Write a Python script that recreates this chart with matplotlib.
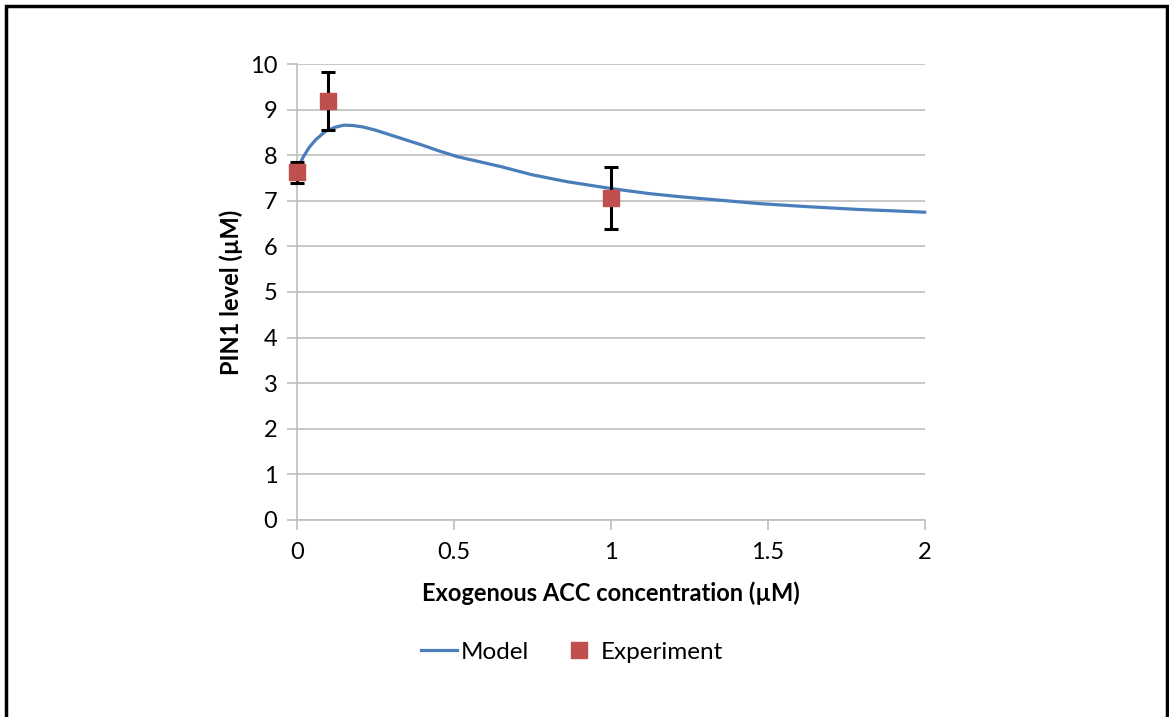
import matplotlib.pyplot as plt
from matplotlib.patches import Rectangle

plt.rcParams['font.family'] = ['Lato', 'DejaVu Sans']

# Model curve
model_x = [0.0, 0.01, 0.02, 0.04, 0.06, 0.09, 0.12, 0.15, 0.18, 0.21, 0.25, 0.30, 0.35,
           0.40, 0.45, 0.51, 0.58, 0.65, 0.75, 0.86, 1.00, 1.12, 1.22, 1.32, 1.47,
           1.63, 1.79, 1.9, 2.0]
model_y = [7.62, 7.82, 7.96, 8.18, 8.34, 8.52, 8.61, 8.66, 8.65, 8.62, 8.55, 8.44, 8.33,
           8.22, 8.10, 7.97, 7.86, 7.75, 7.57, 7.42, 7.27, 7.16, 7.09, 7.03, 6.94,
           6.87, 6.81, 6.78, 6.75]

# Experiment points with error bars
exp_x = [0.0, 0.1, 1.0]
exp_y = [7.63, 9.19, 7.06]
exp_err = [0.23, 0.64, 0.68]

fig = plt.figure(figsize=(11.69, 7.17), dpi=100)
ax = fig.add_axes([0.254, 0.2748, 0.537, 0.6359])

grid_c = '#bfbfbf'
ax.plot(model_x, model_y, color='#4a7ebb', lw=2.3, label='Model', zorder=3,
        solid_joinstyle='round', clip_on=False)
ax.errorbar(exp_x, exp_y, yerr=exp_err, fmt='none', ecolor='black', elinewidth=2.2,
            capsize=5, capthick=2.2, zorder=4, clip_on=False)
ax.plot(exp_x, exp_y, 's', color='#c0504d', ms=11, label='Experiment', zorder=5,
        clip_on=False)

ax.set_xlim(0, 2)
ax.set_ylim(0, 10)
ax.set_xticks([0, 0.5, 1, 1.5, 2])
ax.set_xticklabels(['0', '0.5', '1', '1.5', '2'])
ax.set_yticks(range(0, 11))
ax.yaxis.grid(True, color=grid_c, lw=1.2)
ax.set_axisbelow(True)
for s in ['top', 'right']:
    ax.spines[s].set_visible(False)
for s in ['left', 'bottom']:
    ax.spines[s].set_color(grid_c)
    ax.spines[s].set_linewidth(1.2)
ax.tick_params(axis='both', colors=grid_c, width=1.2, length=7, labelsize=17,
               labelcolor='black')
ax.tick_params(axis='x', pad=9)
ax.tick_params(axis='y', pad=7)

ax.set_xlabel('Exogenous ACC concentration (µM)', fontsize=17, fontweight='bold', labelpad=13)
ax.set_ylabel('PIN1 level (µM)', fontsize=17, fontweight='bold', labelpad=5)

fig.legend(loc='center', bbox_to_anchor=(572 / 1169, 1 - 652 / 717), ncol=2, frameon=False,
           fontsize=17.5, handlelength=1.5, handletextpad=0.15, columnspacing=1.3)

# outer frame
fig.patches.append(Rectangle((6 / 1169, -0.01), 1161 / 1169, 1 - 6 / 717 + 0.01,
                             transform=fig.transFigure, fill=False, ec='black', lw=2.5))

fig.savefig('out.png', dpi=100)
